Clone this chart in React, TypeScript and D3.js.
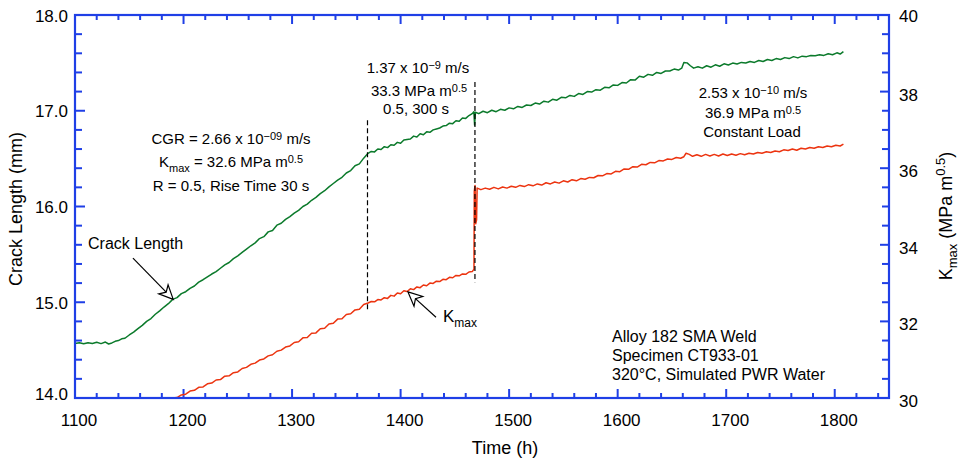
import React from 'react';
import * as d3 from 'd3';

// ---------- data ----------
const timeTicks = [1100, 1200, 1300, 1400, 1500, 1600, 1700, 1800];
const crackTicks = [14, 15, 16, 17, 18];
const kTicks = [30, 32, 34, 36, 38, 40];

// Crack length (mm) vs time (h)
const crackData: [number, number][] = [
  [1100,14.570],[1104,14.578],[1108,14.566],[1112,14.578],[1116,14.570],[1120,14.582],[1124,14.568],[1128,14.584],[1131,14.564],[1134,14.575],
  [1137,14.592],[1140,14.600],[1143,14.618],[1146,14.624],[1150,14.658],[1154,14.688],[1158,14.724],[1162,14.758],[1166,14.800],[1170,14.830],
  [1174,14.875],[1178,14.910],[1182,14.950],[1186,14.985],[1190,15.030],[1194,15.048],[1198,15.090],[1202,15.110],[1206,15.145],[1210,15.170],
  [1214,15.210],[1218,15.235],[1222,15.265],[1226,15.295],[1230,15.320],[1234,15.355],[1238,15.390],[1242,15.415],[1246,15.455],[1250,15.485],
  [1254,15.520],[1258,15.555],[1262,15.590],[1266,15.620],[1270,15.665],[1274,15.685],[1278,15.735],[1282,15.750],[1286,15.805],[1290,15.825],
  [1294,15.865],[1298,15.895],[1302,15.930],[1306,15.960],[1310,16.000],[1314,16.025],[1318,16.065],[1322,16.095],[1326,16.135],[1330,16.165],
  [1334,16.205],[1338,16.240],[1342,16.275],[1346,16.305],[1350,16.350],[1354,16.375],[1358,16.425],[1362,16.445],[1366,16.505],[1370,16.555],
  [1373,16.575],[1376,16.570],[1379,16.600],[1382,16.595],[1385,16.625],[1388,16.615],[1391,16.645],[1394,16.640],[1397,16.670],[1400,16.660],
  [1403,16.695],[1406,16.700],[1409,16.705],[1412,16.735],[1415,16.725],[1418,16.760],[1421,16.750],[1424,16.780],[1427,16.775],[1430,16.800],
  [1433,16.810],[1436,16.820],[1439,16.840],[1442,16.845],[1445,16.870],[1448,16.865],[1451,16.895],[1454,16.890],[1457,16.925],[1460,16.920],
  [1463,16.950],[1466,16.970],[1467.5,16.990],[1468.2,16.850],[1468.9,16.985],[1472,16.970],[1476,16.995],[1480,16.980],[1484,17.005],[1488,16.990],
  [1492,17.015],[1496,17.005],[1500,17.030],[1504,17.020],[1508,17.045],[1512,17.035],[1516,17.060],[1520,17.055],[1524,17.080],[1528,17.070],
  [1532,17.100],[1536,17.090],[1540,17.120],[1544,17.110],[1548,17.140],[1552,17.135],[1556,17.160],[1560,17.150],[1564,17.180],[1568,17.170],
  [1572,17.200],[1576,17.195],[1580,17.220],[1584,17.215],[1588,17.245],[1592,17.240],[1596,17.270],[1600,17.265],[1604,17.295],[1608,17.290],
  [1612,17.325],[1616,17.320],[1620,17.360],[1624,17.350],[1628,17.380],[1632,17.370],[1636,17.400],[1640,17.390],[1644,17.415],[1648,17.415],
  [1652,17.435],[1656,17.425],[1659,17.445],[1661,17.505],[1664,17.500],[1667,17.470],[1670,17.445],[1674,17.460],[1678,17.445],[1682,17.470],
  [1686,17.455],[1690,17.480],[1694,17.465],[1698,17.490],[1702,17.478],[1706,17.498],[1710,17.488],[1714,17.505],[1718,17.498],[1722,17.515],
  [1726,17.505],[1730,17.525],[1734,17.515],[1738,17.535],[1742,17.525],[1746,17.545],[1750,17.535],[1754,17.555],[1758,17.545],[1762,17.565],
  [1766,17.552],[1770,17.570],[1774,17.565],[1778,17.578],[1782,17.575],[1786,17.585],[1790,17.578],[1794,17.595],[1798,17.585],[1802,17.605],
  [1805,17.592],[1808,17.618],
];

// Kmax (MPa m^0.5) vs time (h)
const kmaxData: [number, number][] = [
  [1190,30.00],[1194,30.01],[1198,30.08],[1202,30.10],[1206,30.18],[1210,30.20],[1214,30.28],[1218,30.29],[1222,30.37],
  [1226,30.39],[1230,30.47],[1234,30.48],[1238,30.57],[1242,30.58],[1246,30.66],[1250,30.68],[1254,30.77],[1258,30.80],[1262,30.88],
  [1266,30.91],[1270,30.99],[1274,31.02],[1278,31.10],[1282,31.13],[1286,31.22],[1290,31.25],[1294,31.33],[1298,31.36],[1302,31.45],
  [1306,31.47],[1310,31.57],[1314,31.58],[1318,31.69],[1322,31.70],[1326,31.81],[1330,31.82],[1334,31.93],[1338,31.95],[1342,32.06],
  [1346,32.07],[1350,32.18],[1354,32.20],[1358,32.30],[1362,32.32],[1366,32.44],[1370,32.48],[1373,32.52],[1376,32.51],[1379,32.57],
  [1382,32.56],[1385,32.62],[1388,32.60],[1391,32.68],[1394,32.66],[1397,32.74],[1400,32.72],[1403,32.80],[1406,32.78],[1409,32.85],
  [1412,32.83],[1415,32.90],[1418,32.88],[1421,32.95],[1424,32.93],[1427,33.00],[1430,32.99],[1433,33.05],[1436,33.04],[1439,33.10],
  [1442,33.09],[1445,33.15],[1448,33.14],[1451,33.20],[1454,33.19],[1457,33.24],[1460,33.23],[1463,33.29],[1466,33.30],[1467.6,33.36],
  [1467.9,35.40],[1468.6,35.55],[1469.2,34.55],[1470.0,34.65],[1470.5,35.48],[1474,35.44],[1478,35.48],[1482,35.45],[1486,35.50],[1490,35.46],
  [1494,35.51],[1498,35.48],[1502,35.53],[1506,35.50],[1510,35.55],[1514,35.52],[1518,35.57],[1522,35.54],[1526,35.59],[1530,35.56],
  [1534,35.62],[1538,35.59],[1542,35.64],[1546,35.61],[1550,35.67],[1554,35.64],[1558,35.70],[1562,35.67],[1566,35.73],[1570,35.71],
  [1574,35.76],[1578,35.75],[1582,35.81],[1586,35.80],[1590,35.86],[1594,35.85],[1598,35.92],[1602,35.91],[1606,35.98],[1610,35.97],
  [1614,36.04],[1618,36.03],[1622,36.10],[1626,36.09],[1630,36.15],[1634,36.14],[1638,36.20],[1642,36.19],[1646,36.24],[1650,36.23],
  [1654,36.28],[1658,36.26],[1661,36.30],[1663,36.39],[1666,36.36],[1669,36.31],[1673,36.35],[1677,36.31],[1681,36.36],[1685,36.32],
  [1689,36.36],[1693,36.32],[1697,36.37],[1701,36.33],[1705,36.37],[1709,36.34],[1713,36.38],[1717,36.35],[1721,36.39],[1725,36.37],
  [1729,36.41],[1733,36.39],[1737,36.43],[1741,36.41],[1745,36.45],[1749,36.43],[1753,36.48],[1757,36.46],[1761,36.50],[1765,36.47],
  [1769,36.52],[1773,36.50],[1777,36.54],[1781,36.52],[1785,36.56],[1789,36.54],[1793,36.58],[1797,36.56],[1801,36.60],[1805,36.58],
  [1808,36.63],
];

// Loading-condition transitions (time h, top / bottom in mm)
const transitions = [
  { h: 1369.5, top: 16.90, bottom: 14.90 },
  { h: 1468.5, top: 17.30, bottom: 15.21 },
];

// ---------- styling ----------
const AXIS = '#1f3fe6';
const GREEN = '#0b7a2b';
const RED = '#ec3410';
const FONT = "'Liberation Sans', Arial, Helvetica, sans-serif";

function Arrow({ tail, tip }: { tail: [number, number]; tip: [number, number] }) {
  const dx = tip[0] - tail[0], dy = tip[1] - tail[1];
  const len = Math.hypot(dx, dy);
  const ux = dx / len, uy = dy / len;
  const px = -uy, py = ux;
  const hl = 14, hw = 6.5;
  const bx = tip[0] - ux * hl, by = tip[1] - uy * hl;
  const nx = tip[0] - ux * hl * 0.72, ny = tip[1] - uy * hl * 0.72;
  const pts = [
    [tip[0], tip[1]],
    [bx + px * hw, by + py * hw],
    [nx, ny],
    [bx - px * hw, by - py * hw],
  ];
  return (
    <g>
      <line x1={tail[0]} y1={tail[1]} x2={nx} y2={ny} stroke="#000" strokeWidth={1.2} />
      <polygon points={pts.map(p => p.join(',')).join(' ')} fill="#fff" stroke="#000" strokeWidth={1.2} strokeLinejoin="miter" />
    </g>
  );
}

export default function App() {
  const W = 965, H = 465;
  const left = 75, right = 889, top = 15, bottom = 398;
  const x = d3.scaleLinear().domain([1100, 1850]).range([left, right]);
  const yL = d3.scaleLinear().domain([14, 18]).range([bottom, top]);
  const yR = d3.scaleLinear().domain([30, 40]).range([bottom, top]);

  const crackLine = d3.line<[number, number]>().x(d => x(d[0])).y(d => yL(d[1]));
  const kLine = d3.line<[number, number]>().x(d => x(d[0])).y(d => yR(d[1]));

  const xMinor = d3.range(0, 38).map(i => 1100 + i * 20);
  const yLMinor = d3.range(0, 21).map(i => 14 + i * 0.2);
  const yRMinor = d3.range(0, 21).map(i => 30 + i * 0.5);

  return (
    <svg width={W} height={H} style={{ position: 'absolute', left: 0, top: 0 }}>
      {/* ticks */}
      {xMinor.map((v, i) => (
        <line key={'xb' + i} x1={x(v)} x2={x(v)} y1={bottom} y2={bottom - (i % 5 === 0 ? 9 : 5)} stroke={AXIS} strokeWidth={2} />
      ))}
      {xMinor.map((v, i) => (
        <line key={'xt' + i} x1={x(v)} x2={x(v)} y1={top} y2={top + (i % 5 === 0 ? 9 : 5)} stroke={AXIS} strokeWidth={2} />
      ))}
      {yLMinor.map((v, i) => (
        <line key={'yl' + i} x1={left} x2={left + (i % 5 === 0 ? 10 : 7)} y1={yL(v)} y2={yL(v)} stroke={AXIS} strokeWidth={2} />
      ))}
      {yRMinor.map((v, i) => (
        <line key={'yr' + i} x1={right} x2={right - (i % 4 === 0 ? 9 : 7)} y1={yR(v)} y2={yR(v)} stroke={AXIS} strokeWidth={2} />
      ))}

      {/* data */}
      <path d={kLine(kmaxData) || ''} fill="none" stroke={RED} strokeWidth={1.5} strokeLinejoin="round" />
      <path d={crackLine(crackData) || ''} fill="none" stroke={GREEN} strokeWidth={1.5} strokeLinejoin="round" />

      {/* transition markers */}
      {transitions.map((t, i) => (
        <line key={'tr' + i} x1={x(t.h)} x2={x(t.h)} y1={yL(t.top)} y2={yL(t.bottom)} stroke="#000" strokeWidth={1.2} strokeDasharray="5,3" />
      ))}

      {/* frame */}
      <rect x={left} y={top} width={right - left} height={bottom - top} fill="none" stroke={AXIS} strokeWidth={2.2} />

      {/* tick labels */}
      <g fontSize={17} fill="#000" fontFamily={FONT}>
        {timeTicks.map(v => (
          <text key={'tx' + v} x={x(v) + 4} y={426} textAnchor="middle">{v}</text>
        ))}
        {crackTicks.map((v, i) => (
          <text key={'tl' + v} x={68} y={yL(v) + (i === 0 ? 1.5 : 6.5)} textAnchor="end">{v.toFixed(1)}</text>
        ))}
        {kTicks.map((v, i) => (
          <text key={'trl' + v} x={899} y={yR(v) + (i === kTicks.length - 1 ? 7 : 9)} textAnchor="start">{v}</text>
        ))}
      </g>

      <g fontFamily={FONT} fill="#000">
        {/* axis titles */}
        <text x={505} y={454} fontSize={18} textAnchor="middle">Time (h)</text>
        <text transform="translate(22,209) rotate(-90)" fontSize={18} textAnchor="middle">Crack Length (mm)</text>
        <text transform="translate(952,216) rotate(-90)" fontSize={18} textAnchor="middle">
          K<tspan dy={5} fontSize={13}>max</tspan><tspan dy={-5}> (MPa m</tspan><tspan dy={-7} fontSize={13}>0.5</tspan><tspan dy={7}>)</tspan>
        </text>

        {/* annotations */}
        <g fontSize={15} textAnchor="middle">
          <text x={231} y={144}>CGR = 2.66 x 10<tspan dy={-4} fontSize={11}>−09</tspan><tspan dy={4}> m/s</tspan></text>
          <text x={231} y={166.5}>K<tspan dy={5} fontSize={11}>max</tspan><tspan dy={-5}> = 32.6 MPa m</tspan><tspan dy={-4} fontSize={11}>0.5</tspan></text>
          <text x={231} y={191}>R = 0.5, Rise Time 30 s</text>

          <text x={418} y={73}>1.37 x 10<tspan dy={-4} fontSize={11}>−9</tspan><tspan dy={4}> m/s</tspan></text>
          <text x={419} y={96}>33.3 MPa m<tspan dy={-4} fontSize={11}>0.5</tspan></text>
          <text x={416} y={114}>0.5, 300 s</text>

          <text x={753} y={98}>2.53 x 10<tspan dy={-4} fontSize={11}>−10</tspan><tspan dy={4}> m/s</tspan></text>
          <text x={753} y={118}>36.9 MPa m<tspan dy={-4} fontSize={11}>0.5</tspan></text>
          <text x={752} y={137}>Constant Load</text>
        </g>

        <text x={88} y={249} fontSize={16}>Crack Length</text>
        <text x={443} y={322} fontSize={17}>K<tspan dy={5} fontSize={12}>max</tspan></text>

        <g fontSize={16}>
          <text x={612} y={342}>Alloy 182 SMA Weld</text>
          <text x={612} y={361}>Specimen CT933-01</text>
          <text x={612} y={380}>320°C, Simulated PWR Water</text>
        </g>
      </g>

      <Arrow tail={[x(1153.4), yL(15.46)]} tip={[x(1190.5), yL(15.03)]} />
      <Arrow tail={[x(1432.6), yR(32.11)]} tip={[x(1406.8), yR(32.77)]} />
    </svg>
  );
}
